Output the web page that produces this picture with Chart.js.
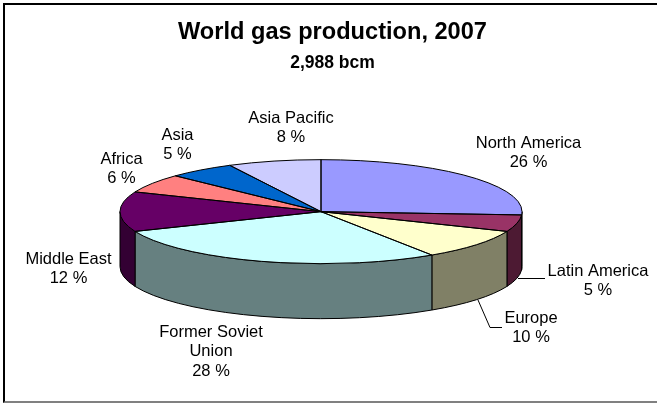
<!DOCTYPE html>
<html>
<head>
<meta charset="utf-8">
<script src="https://cdn.jsdelivr.net/npm/chart.js@4"></script>
<style>
html,body{margin:0;padding:0;background:#fff;overflow:hidden;width:657px;height:403px}
#c{position:absolute;left:4px;top:0}
#frame{position:absolute;left:3px;top:3px;width:660px;height:396px;border-left:2px solid #000;border-top:2px solid #000;border-bottom:2px solid #808080;pointer-events:none}
</style>
</head>
<body>
<canvas id="c" width="657" height="403" style="width:657px;height:403px"></canvas>
<div id="frame"></div>
<script>
const titleText = 'World gas production, 2007';
const subtitleText = '2,988 bcm';
const categories = ['North America','Latin America','Europe','Former Soviet Union','Middle East','Africa','Asia','Asia Pacific'];
const shares = [26,5.2,9.5,28.1,12.4,5.9,5.4,7.5];
const shownPercents = [26,5,10,28,12,6,5,8];
const topColors = ['#9999FF','#993366','#FFFFCC','#CCFFFF','#660066','#FF8080','#0066CC','#CCCCFF'];
const sideColors = ['#4D4D80','#4D1A33','#808066','#668080','#330033','#804040','#003366','#666680'];

// layout only (canvas px): centre of first label line per category
const labelCentres = [[524.5,143],[594,271],[527,318],[207,332],[64.5,259],[117.5,159],[173.5,135],[287,118]];
// leader lines (canvas px)
const leaders = [[[514,278.5],[541,278.5]],[[474,300],[486,327.5],[498,327.5]]];
const pieShiftX = -11.5, squash = 52/201, depth = 55, lineGap = 19.7;

function wrap(s){
  if(s.length<=14) return [s];
  const i=s.lastIndexOf(' ');
  return [s.slice(0,i),s.slice(i+1)];
}

const pie3d = {
  id:'pie3d',
  beforeDatasetDraw(chart){
    const ctx=chart.ctx, arcs=chart.getDatasetMeta(0).data;
    const g=arcs.map(a=>a.getProps(['x','y','startAngle','endAngle','outerRadius'],true));
    const {x,y,outerRadius:R}=g[0], r2=R*squash;
    ctx.save();
    ctx.translate(pieShiftX,0);
    ctx.lineWidth=1; ctx.strokeStyle='#000'; ctx.lineJoin='round';
    // front wall
    g.forEach((p,i)=>{
      const s=Math.max(p.startAngle,0), e=Math.min(p.endAngle,Math.PI);
      if(e<=s) return;
      ctx.beginPath();
      ctx.ellipse(x,y,R,r2,0,s,e);
      ctx.ellipse(x,y+depth,R,r2,0,e,s,true);
      ctx.closePath();
      ctx.fillStyle=sideColors[i];
      ctx.fill(); ctx.stroke();
    });
    // top face, filled by the library's arc elements under a flattening transform
    ctx.save();
    ctx.translate(x,y); ctx.scale(1,squash); ctx.translate(-x,-y);
    arcs.forEach(a=>a.draw(ctx));
    ctx.restore();
    g.forEach(p=>{
      ctx.beginPath();
      ctx.moveTo(x,y);
      ctx.ellipse(x,y,R,r2,0,p.startAngle,p.endAngle);
      ctx.closePath();
      ctx.stroke();
    });
    ctx.restore();
    return false;
  },
  afterDraw(chart){
    const ctx=chart.ctx;
    ctx.save();
    ctx.strokeStyle='#000'; ctx.lineWidth=1;
    leaders.forEach(l=>{
      ctx.beginPath();
      l.forEach((p,i)=>i?ctx.lineTo(p[0],p[1]):ctx.moveTo(p[0],p[1]));
      ctx.stroke();
    });
    ctx.fillStyle='#000';
    ctx.font='16.5px "Liberation Sans"';
    ctx.textAlign='center'; ctx.textBaseline='middle';
    categories.forEach((c,i)=>{
      const lines=wrap(c).concat([shownPercents[i]+' %']);
      lines.forEach((t,j)=>ctx.fillText(t,labelCentres[i][0],labelCentres[i][1]+j*lineGap));
    });
    ctx.restore();
  }
};

new Chart(document.getElementById('c'),{
  type:'pie',
  data:{labels:categories,datasets:[{data:shares,backgroundColor:topColors,borderWidth:0}]},
  plugins:[pie3d],
  options:{
    responsive:false,animation:false,devicePixelRatio:1,
    radius:201,
    layout:{padding:{top:0,left:0,right:0,bottom:63}},
    plugins:{
      legend:{display:false},tooltip:{enabled:false},
      title:{display:true,text:titleText,color:'#000',font:{family:'"Liberation Sans"',size:23.6,weight:'bold'},padding:{top:18,bottom:6}},
      subtitle:{display:true,text:subtitleText,color:'#000',font:{family:'"Liberation Sans"',size:17.5,weight:'bold'},padding:{top:0,bottom:10}}
    }
  }
});
</script>
</body>
</html>
